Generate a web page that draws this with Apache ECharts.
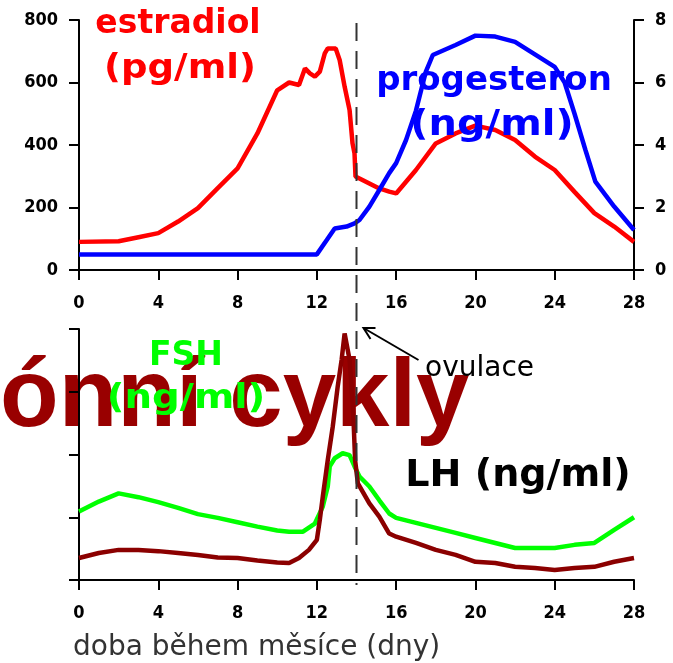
<!DOCTYPE html>
<html><head><meta charset="utf-8">
<script src="https://cdn.jsdelivr.net/npm/echarts@6.0.0/dist/echarts.min.js"></script>
<style>html,body{margin:0;padding:0;background:#fff}#c{width:673px;height:663px}</style>
</head><body><div id="c"></div>
<script>
// ---- data (day of cycle -> value) ----
var dayTicks = [0, 4, 8, 12, 16, 20, 24, 28];
var estradiolDays = [0,2,3,4,5,6,7,8,9,10,10.6,11.1,11.4,11.65,11.9,12.15,12.4,12.55,12.95,13.15,13.4,13.65,13.8,13.9,13.95,14.15,14.65,15.15,15.65,16,17,18,19,20,21,22,23,24,25,26,27,28];
var estradiolVals = [90,92,105,118,155,198,262,325,437,575,600,592,645,629,619,635,693,709,709,672,587,512,405,373,299,293,277,261,251,245,320,405,437,462,448,416,363,320,250,182,139,90];
var progDays = [0,12,12.5,12.9,13.5,13.9,14.15,14.65,15.15,15.65,16,16.5,17,17.5,17.85,19,20,21,22,23,24,24.5,25,25.55,26.05,27,28];
var progVals = [0.5,0.5,0.96,1.33,1.39,1.49,1.6,2.03,2.56,3.1,3.42,4.16,5.1,6.35,6.88,7.2,7.5,7.47,7.3,6.9,6.5,6.0,5.0,3.84,2.83,2.03,1.28];
var fshDays = [0,1,2,3,4,5,6,7,8,9,10,10.6,11.3,11.9,12.3,12.55,12.65,12.9,13.3,13.65,13.9,14.15,14.65,15.15,15.65,16,17,18,19,20,21,22,23,24,25,26,27,28];
var fshVals = [1.09,1.25,1.38,1.32,1.24,1.15,1.05,0.99,0.92,0.85,0.79,0.77,0.77,0.9,1.17,1.49,1.81,1.94,2.02,1.99,1.81,1.65,1.49,1.27,1.06,0.99,0.91,0.83,0.75,0.67,0.59,0.51,0.51,0.51,0.56,0.59,0.8,1.0];
var lhDays = [0,1,2,3,4,5,6,7,8,9,10,10.6,11.1,11.6,12,12.15,12.3,12.55,12.8,13.05,13.25,13.4,13.5,13.65,13.75,13.85,13.93,14.07,14.65,15.15,15.65,16,17,18,19,20,21,22,23,24,25,26,27,28];
var lhVals = [0.35,0.43,0.48,0.48,0.46,0.43,0.40,0.36,0.35,0.31,0.28,0.27,0.35,0.48,0.64,0.96,1.33,1.91,2.44,3.08,3.51,3.93,3.93,3.51,3.08,2.55,1.91,1.54,1.22,1.01,0.74,0.69,0.59,0.48,0.40,0.29,0.27,0.21,0.19,0.16,0.19,0.21,0.29,0.35];
var ovulationDay = 14;

function pairs(xs, ys) { return xs.map(function (x, i) { return [x, ys[i]]; }); }

var tickFont = { fontFamily: "'DejaVu Sans Condensed','Liberation Sans Narrow','DejaVu Sans',sans-serif", fontSize: 18, fontWeight: 'bold', color: '#000' };
var axLine = { show: true, lineStyle: { color: '#000', width: 2 } };
var axTick = { show: true, length: 10, lineStyle: { color: '#000', width: 2 } };

function xAx(g) {
  return { type: 'value', gridIndex: g, min: 0, max: 28, interval: 4,
    axisLine: axLine, axisTick: axTick, splitLine: { show: false },
    axisLabel: Object.assign({ margin: 24, formatter: function (v) { return dayTicks.indexOf(v) >= 0 ? String(v) : ''; } }, tickFont) };
}

var chart = echarts.init(document.getElementById('c'), null, { renderer: 'canvas' });
var boldFont = "'DejaVu Sans','Verdana',sans-serif";

var option = {
  animation: false,
  backgroundColor: '#fff',
  grid: [
    { left: 79, right: 39, top: 20, height: 250 },
    { left: 79, right: 39, top: 329, height: 251 }
  ],
  xAxis: [xAx(0), xAx(1)],
  yAxis: [
    { type: 'value', gridIndex: 0, position: 'left', min: 0, max: 800, interval: 200,
      axisLine: axLine, axisTick: axTick, splitLine: { show: false },
      axisLabel: Object.assign({ margin: 21 }, tickFont) },
    { type: 'value', gridIndex: 0, position: 'right', min: 0, max: 8, interval: 2,
      axisLine: axLine, axisTick: axTick, splitLine: { show: false },
      axisLabel: Object.assign({ margin: 21 }, tickFont) },
    { type: 'value', gridIndex: 1, position: 'left', min: 0, max: 4, interval: 1,
      axisLine: axLine, axisTick: axTick, splitLine: { show: false },
      axisLabel: { show: false } }
  ],
  series: [
    { name: 'estradiol', type: 'line', xAxisIndex: 0, yAxisIndex: 0, data: pairs(estradiolDays, estradiolVals),
      showSymbol: false, lineStyle: { color: '#ff0000', width: 4.5 }, z: 3 },
    { name: 'progesteron', type: 'line', xAxisIndex: 0, yAxisIndex: 1, data: pairs(progDays, progVals),
      showSymbol: false, lineStyle: { color: '#0000ff', width: 4.5 }, z: 4 },
    { name: 'FSH', type: 'line', xAxisIndex: 1, yAxisIndex: 2, data: pairs(fshDays, fshVals),
      showSymbol: false, lineStyle: { color: '#00ff00', width: 4.5 }, z: 3 },
    { name: 'LH', type: 'line', xAxisIndex: 1, yAxisIndex: 2, data: pairs(lhDays, lhVals),
      showSymbol: false, lineStyle: { color: '#8b0000', width: 4.5 }, z: 4 }
  ]
};
chart.setOption(option);

var ox = chart.convertToPixel({ xAxisIndex: 0 }, ovulationDay);
var topY = chart.convertToPixel({ yAxisIndex: 0 }, 800);
var botY = chart.convertToPixel({ yAxisIndex: 2 }, 0);
var peakY = chart.convertToPixel({ yAxisIndex: 2 }, 4);

function txt(t, x, y, size, color, weight, align, sx) {
  return { type: 'text', x: x, y: y, z: 10, scaleX: sx || 1,
    style: { text: t, fill: color, font: (weight || 'bold') + ' ' + size + 'px ' + boldFont, align: align || 'center', verticalAlign: 'middle' } };
}

chart.setOption({
  graphic: [
    { type: 'text', x: 0, y: 400, z: -5,
      style: { text: 'ónní cykly', fill: '#990000', font: 'bold 96px "Liberation Sans", Arial, sans-serif', align: 'left', verticalAlign: 'middle' } },
    { type: 'line', z: 20, shape: { x1: ox, y1: topY + 3, x2: ox, y2: botY + 5 },
      style: { stroke: '#333', lineWidth: 2, lineDash: [18, 10] } },
    { type: 'line', z: 20, shape: { x1: ox + 62, y1: peakY + 31, x2: ox + 7, y2: peakY - 1 },
      style: { stroke: '#000', lineWidth: 2 } },
    { type: 'polyline', z: 20, shape: { points: [[ox + 19, peakY - 1], [ox + 7, peakY - 1], [ox + 14, peakY + 10]] },
      style: { stroke: '#000', lineWidth: 2, fill: null } },
    txt('estradiol', 178, 24, 33, '#ff0000'),
    txt('(pg/ml)', 180, 69, 34, '#ff0000', 'bold', 'center', 1.09),
    txt('progesteron', 494, 81, 34, '#0000ff'),
    txt('(ng/ml)', 492, 126, 35, '#0000ff', 'bold', 'center', 1.14),
    txt('FSH', 186, 356, 33, '#00ff00'),
    txt('(ng/ml)', 186, 399, 34, '#00ff00', 'bold', 'center', 1.14),
    txt('LH (ng/ml)', 518, 476, 37, '#000', 'bold', 'center', 1.03),
    txt('ovulace', 425, 369, 28, '#000', 'normal', 'left'),
    txt('doba během měsíce (dny)', 73, 648, 28, '#333', 'normal', 'left')
  ]
});
</script></body></html>
